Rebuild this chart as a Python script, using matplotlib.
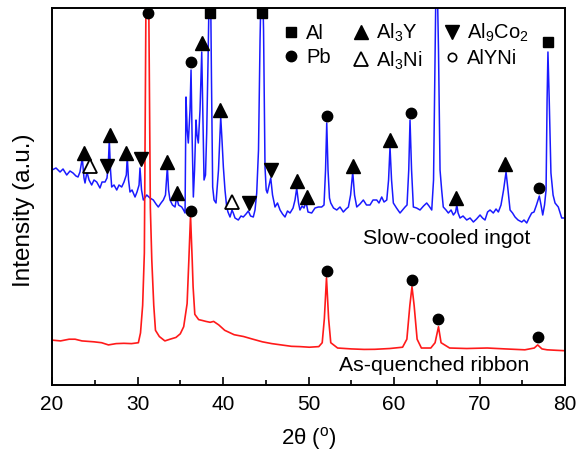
import numpy as np
import matplotlib
matplotlib.use('Agg')
import matplotlib.pyplot as plt
from matplotlib.lines import Line2D
from matplotlib.ticker import MultipleLocator

plt.rcParams['font.family'] = ['Liberation Sans', 'DejaVu Sans']
plt.rcParams['mathtext.fontset'] = 'custom'
plt.rcParams['mathtext.rm'] = 'Liberation Sans'
plt.rcParams['mathtext.it'] = 'Liberation Sans:italic'

# slow-cooled ingot (blue), 2theta and intensity (a.u.)
ingot_2theta = [
    20.0, 20.47, 20.94, 21.29, 21.72, 22.1, 22.46, 22.8, 23.04, 23.27,
    23.54, 23.74, 23.86, 24.09, 24.33, 24.64, 24.91, 25.23, 25.61, 25.85,
    26.2, 26.43, 26.58, 26.7, 26.84, 26.98, 27.25, 27.57, 27.84, 28.15,
    28.42, 28.69, 28.8, 28.95, 29.12, 29.36, 29.71, 29.94, 30.18, 30.29,
    30.47, 30.68, 31.08, 31.46, 31.85, 32.16, 32.43, 32.75, 33.02, 33.27,
    33.49, 33.63, 33.8, 34.09, 34.39, 34.58, 34.8, 35.17, 35.38, 35.56,
    35.67, 35.81, 35.94, 36.14, 36.26, 36.37, 36.53, 36.67, 36.84, 36.96,
    37.11, 37.31, 37.51, 37.66, 37.78, 37.95, 38.09, 38.25, 38.4, 38.54,
    38.65, 38.79, 38.95, 39.18, 39.47, 39.73, 39.88, 40.04, 40.23, 40.43,
    40.58, 40.82, 41.05, 41.2, 41.4, 41.79, 42.1, 42.37, 42.69, 42.96,
    43.22, 43.54, 43.74, 43.94, 44.15, 44.33, 44.47, 44.62, 44.74, 44.91,
    45.05, 45.18, 45.58, 45.79, 46.08, 46.37, 46.67, 46.96, 47.25, 47.54,
    47.84, 48.19, 48.42, 48.62, 48.83, 49.0, 49.24, 49.47, 49.71, 49.94,
    50.37, 50.76, 51.15, 51.54, 51.81, 51.99, 52.13, 52.28, 52.45, 52.6,
    52.92, 53.3, 53.68, 54.07, 54.39, 54.66, 54.92, 55.17, 55.38, 55.64,
    56.02, 56.41, 56.78, 57.19, 57.54, 57.98, 58.24, 58.56, 58.83, 59.15,
    59.36, 59.53, 59.71, 59.92, 60.29, 60.7, 60.99, 61.29, 61.52, 61.72,
    61.87, 62.05, 62.26, 62.64, 63.04, 63.45, 63.82, 64.09, 64.41, 64.62,
    64.79, 64.91, 65.05, 65.2, 65.38, 65.57, 65.76, 66.08, 66.35, 66.67,
    66.94, 67.2, 67.34, 67.49, 67.72, 68.07, 68.5, 68.89, 69.28, 69.65,
    70.06, 70.35, 70.64, 70.94, 71.23, 71.61, 71.93, 72.2, 72.51, 72.81,
    73.1, 73.33, 73.57, 73.86, 74.15, 74.5, 74.94, 75.2, 75.52, 75.79,
    76.1, 76.37, 76.66, 76.99, 77.19, 77.39, 77.6, 77.78, 77.9, 78.0,
    78.15, 78.35, 78.6, 78.83, 79.21, 79.61, 80.0]
ingot_int = [
    236, 238, 234, 237, 231, 235, 233, 230, 229, 234,
    248, 228, 223, 234, 226, 221, 226, 224, 218, 224,
    224, 228, 241, 266, 236, 219, 221, 216, 221, 219,
    224, 231, 249, 226, 214, 216, 209, 214, 221, 238,
    216, 206, 211, 208, 206, 202, 199, 203, 206, 211,
    239, 216, 206, 201, 199, 209, 201, 199, 196, 193,
    309, 276, 263, 296, 336, 276, 209, 236, 286, 271,
    263, 296, 354, 286, 226, 231, 273, 346, 426, 426,
    326, 219, 206, 203, 236, 289, 266, 239, 216, 199,
    194, 189, 196, 193, 188, 186, 190, 189, 192, 195,
    190, 189, 196, 213, 256, 366, 426, 426, 376, 239,
    216, 213, 228, 211, 199, 203, 196, 192, 189, 195,
    193, 198, 206, 218, 203, 196, 200, 198, 204, 194,
    193, 198, 199, 199, 201, 236, 283, 236, 208, 203,
    198, 196, 199, 194, 197, 199, 211, 234, 211, 199,
    202, 206, 201, 201, 206, 206, 203, 209, 204, 206,
    226, 259, 226, 203, 198, 193, 196, 199, 201, 236,
    286, 236, 199, 198, 196, 200, 203, 200, 196, 226,
    346, 426, 426, 356, 236, 216, 199, 196, 193, 196,
    191, 194, 201, 193, 188, 190, 186, 188, 184, 187,
    191, 188, 186, 194, 196, 193, 197, 194, 201, 216,
    234, 216, 196, 193, 189, 186, 184, 186, 183, 188,
    193, 194, 201, 210, 201, 191, 201, 216, 306, 354,
    306, 233, 211, 203, 199, 188, 188]

# as-quenched ribbon (red)
ribbon_2theta = [
    20.0, 21.0, 22.0, 22.7, 23.5, 24.9, 25.8, 26.6, 27.5, 28.4,
    29.3, 30.1, 30.35, 30.6, 30.8, 31.0, 31.3, 31.5, 31.67, 31.9,
    32.1, 32.55, 33.2, 33.8, 34.5, 35.0, 35.4, 35.8, 36.0, 36.2,
    36.4, 36.5, 36.7, 37.15, 37.6, 38.0, 38.5, 38.9, 39.5, 40.2,
    41.3, 42.4, 43.5, 44.6, 45.7, 46.8, 48.0, 49.0, 50.1, 51.2,
    51.6, 51.85, 52.1, 52.35, 52.6, 53.4, 55.0, 56.5, 57.75, 59.5,
    61.0, 61.5, 61.85, 62.1, 62.35, 62.7, 63.2, 64.3, 64.8, 65.2,
    65.5, 66.5, 68.5, 70.9, 73.0, 75.3, 76.4, 76.8, 77.3, 77.9,
    79.0, 80.0]
ribbon_int = [
    65.9, 65.1, 66.8, 66.8, 65.1, 64.2, 63.3, 61.1, 62.4, 62.7,
    62.4, 63.3, 73.1, 100.6, 153.1, 420, 420, 198.4, 146, 100.6,
    75.7, 69.5, 65.1, 66.8, 68.6, 72.2, 79.3, 102.4, 145.1, 190.4,
    145.1, 119.3, 91.7, 86.4, 85.5, 84.6, 83.7, 84.6, 81.1, 75.7,
    71.3, 69.5, 66.8, 64.2, 62.4, 61.1, 59.7, 59.4, 58.8, 59.4,
    63.3, 87.3, 128.2, 87.3, 63.3, 58, 57.1, 56.6, 56.7, 57.5,
    58.8, 66.8, 100.6, 119.3, 100.6, 66.8, 58, 58, 63.3, 79.3,
    63.3, 58, 57.5, 58, 57.1, 56.2, 58, 61.1, 57.1, 56.2,
    55.7, 55.3]

# phase markers (2theta, height)
al_x = [38.5, 44.6, 77.95]
al_y = [393, 393, 364]
pb_x = [31.2, 36.3, 52.2, 62.0, 77.0, 36.3, 52.2, 62.1, 65.2, 76.8]
pb_y = [393, 344, 290, 293, 218, 195, 135, 126, 87, 69]
al3y_x = [23.7, 26.8, 28.7, 33.5, 34.6, 37.5, 39.6, 48.6, 49.8, 55.2, 59.5, 67.3, 73.0]
al3y_y = [253, 271, 253, 244, 213, 363, 296, 225, 209, 240, 266, 208, 242]
al3ni_x = [24.4, 41.0]
al3ni_y = [240, 204]
al9co2_x = [26.4, 30.4, 43.0, 45.6]
al9co2_y = [240, 247, 203, 236]

fig = plt.figure(figsize=(5.87, 4.51), dpi=100)
ax = fig.add_axes([0.0886, 0.1463, 0.874, 0.836])

ax.plot(ingot_2theta, ingot_int, color='#1a1aff', lw=1.1)
ax.plot(ribbon_2theta, ribbon_int, color='#ff1a1a', lw=1.2)

ax.plot(al_x, al_y, 's', color='k', ms=7, clip_on=False)
ax.plot(pb_x, pb_y, 'o', color='k', ms=7.5, clip_on=False)
ax.plot(al3y_x, al3y_y, '^', color='k', ms=10.5, clip_on=False)
ax.plot(al3ni_x, al3ni_y, '^', mfc='white', mec='k', mew=1.3, ms=10, clip_on=False)
ax.plot(al9co2_x, al9co2_y, 'v', color='k', ms=10.5, clip_on=False)

handles = [
    Line2D([], [], ls='none', marker='s', color='k', ms=7),
    Line2D([], [], ls='none', marker='o', color='k', ms=7.5),
    Line2D([], [], ls='none', marker='^', color='k', ms=10.5),
    Line2D([], [], ls='none', marker='^', mfc='white', mec='k', mew=1.3, ms=10),
    Line2D([], [], ls='none', marker='v', color='k', ms=10.5),
    Line2D([], [], ls='none', marker='o', mfc='white', mec='k', mew=1.2, ms=6),
]
labels = ['Al', 'Pb', r'Al$_3$Y', r'Al$_3$Ni', r'Al$_9$Co$_2$', 'AlYNi']
ax.legend(handles, labels, ncol=3, loc='upper left', bbox_to_anchor=(0.45, 0.963),
          frameon=False, fontsize=14.5, handlelength=0.8, handletextpad=0.35,
          columnspacing=1.1, labelspacing=0.25, borderpad=0, borderaxespad=0)

ax.text(56.4, 168, 'Slow-cooled ingot', fontsize=15.3, va='center', ha='left')
ax.text(53.6, 41, 'As-quenched ribbon', fontsize=15.3, va='center', ha='left')

ax.set_xlim(20, 80)
ax.set_ylim(21, 398)
ax.set_yticks([])
ax.xaxis.set_major_locator(MultipleLocator(10))
ax.xaxis.set_minor_locator(MultipleLocator(5))
ax.tick_params(axis='x', which='major', direction='in', length=6, width=1.2,
               labelsize=15, pad=7)
ax.tick_params(axis='x', which='minor', direction='in', length=3.5, width=1.2)
for s in ax.spines.values():
    s.set_linewidth(1.4)

ax.set_xlabel(r'2θ ($^{\mathrm{o}}$)', fontsize=16, labelpad=8)
ax.set_ylabel('Intensity (a.u.)', fontsize=17.5)
ax.yaxis.set_label_coords(-0.033, 0.464)

fig.savefig('out.png', dpi=100)
